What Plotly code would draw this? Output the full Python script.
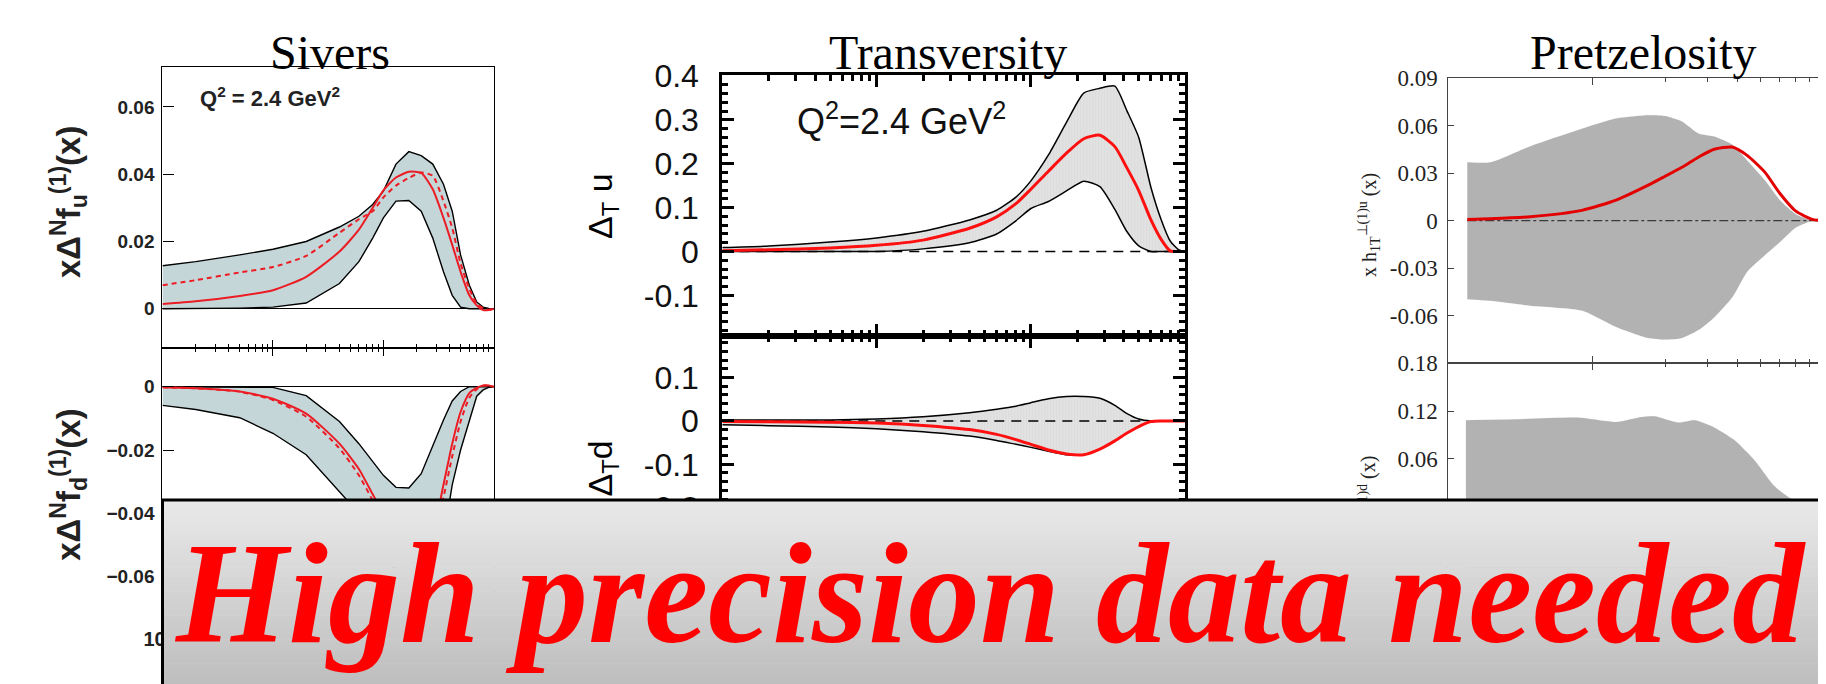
import math
import plotly.graph_objects as go

W, H = 1826, 684

# ------------------------------------------------------------------ data
# Sivers (x grid, log scale)
X_SIV = [0.001, 0.002, 0.005, 0.01, 0.02, 0.04, 0.06, 0.08, 0.1, 0.13, 0.17,
         0.22, 0.28, 0.35, 0.42, 0.5, 0.6, 0.7, 0.8, 0.9, 1.0]
SIV_U_HI = [0.0128, 0.0140, 0.0160, 0.0177, 0.0200, 0.0243, 0.0275, 0.0310, 0.0350, 0.0430, 0.0467,
            0.0455, 0.0430, 0.0370, 0.0290, 0.0160, 0.0070, 0.0020, 0.0005, 0.0001, 0.0]
SIV_U_LO = [0.0, 0.0, 0.0002, 0.0005, 0.0017, 0.0075, 0.0140, 0.0210, 0.0270, 0.0320, 0.0322,
            0.0290, 0.0210, 0.0110, 0.0040, 0.0005, 0.0, 0.0, 0.0, 0.0, 0.0]
SIV_U_FIT = [0.0014, 0.0022, 0.0038, 0.0055, 0.0095, 0.0170, 0.0235, 0.0300, 0.0352, 0.0390, 0.0407,
             0.0404, 0.0355, 0.0270, 0.0190, 0.0110, 0.0040, 0.0010, -0.0004, -0.0004, 0.0]
SIV_U_OLD = [0.0070, 0.0085, 0.0108, 0.0124, 0.0157, 0.0226, 0.0266, 0.0290, 0.0331, 0.0366, 0.0389,
             0.0405, 0.0395, 0.0320, 0.0240, 0.0135, 0.0060, 0.0015, 0.0002, -0.0003, 0.0]
SIV_D_HI = [0.0, 0.0, 0.0, -0.0002, -0.0028, -0.0110, -0.0180, -0.0235, -0.0280, -0.0318, -0.0320,
            -0.0275, -0.0185, -0.0105, -0.0045, -0.0015, 0.0, 0.0, 0.0, 0.0, 0.0]
SIV_D_LO = [-0.0059, -0.0072, -0.0098, -0.0147, -0.0215, -0.0330, -0.0400, -0.0470, -0.0530, -0.0580, -0.0620,
            -0.0620, -0.0580, -0.0480, -0.0310, -0.0200, -0.0108, -0.0030, -0.0010, -0.0002, 0.0]
SIV_D_FIT = [-0.0002, -0.0005, -0.0015, -0.0038, -0.0085, -0.0180, -0.0260, -0.0340, -0.0400, -0.0460, -0.0500,
             -0.0510, -0.0460, -0.0310, -0.0180, -0.0080, -0.0020, -0.0004, 0.0004, 0.0004, 0.0]
SIV_D_OLD = [-0.0002, -0.0005, -0.0016, -0.0042, -0.0095, -0.0195, -0.0280, -0.0360, -0.0430, -0.0490, -0.0530,
             -0.0540, -0.0500, -0.0350, -0.0220, -0.0110, -0.0035, -0.0008, 0.0003, 0.0003, 0.0]

# Transversity
X_TRV = [0.001, 0.002, 0.005, 0.01, 0.02, 0.04, 0.06, 0.08, 0.1, 0.13, 0.17,
         0.22, 0.28, 0.35, 0.42, 0.5, 0.6, 0.7, 0.8, 0.9, 1.0]
TRV_U_HI = [0.009, 0.0126, 0.0215, 0.031, 0.046, 0.072, 0.094, 0.124, 0.161, 0.220, 0.294,
            0.361, 0.372, 0.377, 0.320, 0.260, 0.146, 0.072, 0.024, 0.005, 0.0]
TRV_U_LO = [0.0, 0.0, 0.0, 0.0, 0.006, 0.020, 0.040, 0.070, 0.098, 0.114, 0.138,
            0.160, 0.148, 0.096, 0.045, 0.013, 0.0, 0.0, 0.0, 0.0, 0.0]
TRV_U_FIT = [0.0015, 0.004, 0.008, 0.014, 0.026, 0.053, 0.079, 0.109, 0.142, 0.183, 0.224,
             0.257, 0.265, 0.239, 0.190, 0.139, 0.072, 0.027, 0.0015, 0.0, 0.0]
TRV_D_HI = [0.002, 0.002, 0.002, 0.0045, 0.0097, 0.019, 0.027, 0.034, 0.042, 0.051, 0.056,
            0.056, 0.052, 0.036, 0.017, 0.0045, 0.0, 0.0, 0.0, 0.0, 0.0]
TRV_D_LO = [-0.009, -0.011, -0.014, -0.018, -0.025, -0.035, -0.045, -0.054, -0.061, -0.070, -0.078,
            -0.078, -0.065, -0.046, -0.028, -0.013, -0.0015, 0.0, 0.0, 0.0, 0.0]
TRV_D_FIT = [-0.0015, -0.002, -0.003, -0.005, -0.0105, -0.020, -0.031, -0.043, -0.054, -0.067, -0.076,
             -0.078, -0.065, -0.046, -0.028, -0.013, -0.0015, 0.0, 0.0, 0.0, 0.0]

# Pretzelosity
X_PRZ_U = [0.03, 0.0375, 0.055, 0.09, 0.125, 0.17, 0.2, 0.235, 0.275, 0.32, 0.38,
           0.44, 0.52, 0.6, 0.7, 0.82, 0.9]
PRZ_U_HI = [0.0368, 0.0368, 0.0470, 0.0580, 0.0645, 0.0665, 0.0660, 0.0625, 0.0550, 0.0530, 0.0480,
            0.0378, 0.0255, 0.0130, 0.0040, 0.0, 0.0]
PRZ_U_LO = [-0.0495, -0.0505, -0.0536, -0.0567, -0.0670, -0.0740, -0.0750, -0.0740, -0.0690, -0.0610, -0.0485,
            -0.0320, -0.0218, -0.0136, -0.0043, 0.0, 0.0]
PRZ_U_FIT = [0.0008, 0.0012, 0.0025, 0.0065, 0.0130, 0.0224, 0.0280, 0.0337, 0.0400, 0.0450, 0.0464,
             0.0410, 0.0306, 0.0173, 0.0060, 0.0008, 0.0]
X_PRZ_D = [0.0296, 0.048, 0.088, 0.125, 0.16, 0.18, 0.227, 0.266, 0.32, 0.39, 0.47, 0.57, 0.665, 0.78]
PRZ_D_HI = [0.1086, 0.1098, 0.1118, 0.1065, 0.1127, 0.1135, 0.1057, 0.1086, 0.0996, 0.0833, 0.0588,
            0.0260, 0.0106, 0.0]
PRZ_D_LO = [-0.090, -0.095, -0.100, -0.100, -0.105, -0.105, -0.100, -0.095, -0.085, -0.070, -0.050,
            -0.025, -0.010, 0.0]
PRZ_D_FIT = [-0.001, -0.002, -0.004, -0.006, -0.009, -0.011, -0.014, -0.016, -0.018, -0.017, -0.013,
             -0.007, -0.003, 0.0]

# tick labels
SIV_U_TICKS = [0, 0.02, 0.04, 0.06]
SIV_U_LABELS = ["0", "0.02", "0.04", "0.06"]
SIV_D_TICKS = [0, -0.02, -0.04, -0.06]
SIV_D_LABELS = ["0", "\u22120.02", "\u22120.04", "\u22120.06"]
DECADES = [0.001, 0.01, 0.1, 1.0]
SIV_X_LABELS = ["10<sup>\u22123</sup>", "", "", ""]   # only the first one peeks out
TRV_U_TICKS = [-0.1, 0, 0.1, 0.2, 0.3, 0.4]
TRV_U_LABELS = ["-0.1", "0", "0.1", "0.2", "0.3", "0.4"]
TRV_D_TICKS = [-0.2, -0.1, 0, 0.1]
TRV_D_LABELS = ["-0.2", "-0.1", "0", "0.1"]
PRZ_U_TICKS = [-0.06, -0.03, 0, 0.03, 0.06, 0.09]
PRZ_U_LABELS = ["-0.06", "-0.03", "0", "0.03", "0.06", "0.09"]
PRZ_D_TICKS = [0, 0.06, 0.12, 0.18]
PRZ_D_LABELS = ["0", "0.06", "0.12", "0.18"]

# ------------------------------------------------------------------ helpers
MINOR_LOG = [m * d for d in [0.001, 0.01, 0.1] for m in range(2, 10)]
PRZ_MINOR = [m * 0.1 for m in range(2, 10)]

SANS = "Liberation Sans, Arial, sans-serif"
SERIF = "Liberation Serif, Times New Roman, serif"

SIV_FILL = "#c5d6d9"
SIV_RED = "#ec1c24"
TRV_RED = "#ff1010"
PRZ_RED = "#e30000"

fig = go.Figure()


def line(xs, ys, xa, ya, color, width, dash="solid", shape="spline", fill=None,
         fillcolor=None, fillpattern=None):
    kw = dict(x=xs, y=ys, xaxis=xa, yaxis=ya, mode="lines",
              line=dict(color=color, width=width, dash=dash, shape=shape, smoothing=0.6),
              hoverinfo="skip", showlegend=False)
    if fill:
        kw["fill"] = fill
        kw["fillcolor"] = fillcolor
        if fillpattern:
            kw["fillpattern"] = fillpattern
    fig.add_trace(go.Scatter(**kw))


# Sivers u
line(X_SIV, SIV_U_LO, "x", "y", "black", 1.4, shape="linear")
line(X_SIV, SIV_U_HI, "x", "y", "black", 1.4, shape="linear", fill="tonexty", fillcolor=SIV_FILL)
line(X_SIV, SIV_U_OLD, "x", "y", SIV_RED, 2, dash="5px,4px")
line(X_SIV, SIV_U_FIT, "x", "y", SIV_RED, 2)
# Sivers d
line(X_SIV, SIV_D_LO, "x2", "y2", "black", 1.4, shape="linear")
line(X_SIV, SIV_D_HI, "x2", "y2", "black", 1.4, shape="linear", fill="tonexty", fillcolor=SIV_FILL)
line(X_SIV, SIV_D_OLD, "x2", "y2", SIV_RED, 2, dash="5px,4px")
line(X_SIV, SIV_D_FIT, "x2", "y2", SIV_RED, 2)

# Transversity
TRV_PATTERN = dict(shape="|", bgcolor="#e2e2e2", fgcolor="#cfcfcf", size=3, solidity=0.25)
line(X_TRV, TRV_U_LO, "x3", "y3", "black", 1.5)
line(X_TRV, TRV_U_HI, "x3", "y3", "black", 1.5, fill="tonexty", fillcolor="#dedede",
     fillpattern=TRV_PATTERN)
line([X_TRV[0], X_TRV[-1]], [0, 0], "x3", "y3", "black", 1.5, dash="10px,7px", shape="linear")
line(X_TRV, TRV_U_FIT, "x3", "y3", TRV_RED, 3)

line(X_TRV, TRV_D_LO, "x4", "y4", "black", 1.5)
line(X_TRV, TRV_D_HI, "x4", "y4", "black", 1.5, fill="tonexty", fillcolor="#dedede",
     fillpattern=TRV_PATTERN)
line([X_TRV[0], X_TRV[-1]], [0, 0], "x4", "y4", "black", 1.5, dash="10px,7px", shape="linear")
line(X_TRV, TRV_D_FIT, "x4", "y7", TRV_RED, 3)

# Pretzelosity
line(X_PRZ_U, PRZ_U_LO, "x5", "y5", "#b2b2b2", 0.1)
line(X_PRZ_U, PRZ_U_HI, "x5", "y5", "#b2b2b2", 0.1, fill="tonexty", fillcolor="#b2b2b2")
line([X_PRZ_U[0], X_PRZ_U[-1]], [0, 0], "x5", "y5", "#3a3a3a", 1.2, dash="dashdot", shape="linear")
line(X_PRZ_U, PRZ_U_FIT, "x5", "y5", PRZ_RED, 3)

line(X_PRZ_D, PRZ_D_LO, "x6", "y6", "#b2b2b2", 0.1)
line(X_PRZ_D, PRZ_D_HI, "x6", "y6", "#b2b2b2", 0.1, fill="tonexty", fillcolor="#b2b2b2")
line(X_PRZ_D, PRZ_D_FIT, "x6", "y8", PRZ_RED, 3)


# ------------------------------------------------------------------ axes
def dom_x(a, b):
    return [a / W, min(b / W, 1.0)]


def dom_y(top, bottom):
    return [1 - bottom / H, 1 - top / H]


def logx(domain, anchor, rng, lw, tw, major_len, minor_len, mirror, color="black",
         tickvals=DECADES, minor_vals=MINOR_LOG, labels=None, font=None):
    d = dict(domain=domain, anchor=anchor, type="log", range=rng, showgrid=False,
             zeroline=False, showline=True, linecolor=color, linewidth=lw, mirror=mirror,
             ticks="inside", tickvals=tickvals, ticklen=major_len, tickwidth=tw,
             tickcolor=color,
             minor=dict(tickvals=minor_vals, ticklen=minor_len, tickwidth=tw,
                        tickcolor=color, ticks="inside", showgrid=False))
    if labels:
        d.update(showticklabels=True, ticktext=labels, tickfont=font, ticklabelstandoff=8)
    else:
        d.update(showticklabels=False)
    return d


def liny(domain, anchor, rng, vals, labels, lw, tw, tlen, mirror, font, standoff,
         color="black", minor=None, zeroline=False):
    d = dict(domain=domain, anchor=anchor, range=rng, showgrid=False,
             zeroline=zeroline, zerolinecolor="black", zerolinewidth=1.4,
             showline=True, linecolor=color, linewidth=lw, mirror=mirror,
             ticks="inside", tickvals=vals, ticktext=labels, ticklen=tlen,
             tickwidth=tw, tickcolor=color, tickfont=font, ticklabelstandoff=standoff)
    if minor:
        d["minor"] = minor
    return d


siv_font = dict(family=SANS, size=19, color="#222", weight="bold")
trv_font = dict(family=SANS, size=32, color="#111")
prz_font = dict(family=SERIF, size=23, color="#222")

layout_axes = dict(
    xaxis=logx(dom_x(137, 472), "y", [-3, 0], 1.4, 1.2, 8, 4, True),
    yaxis=liny(dom_y(43, 331.5), "x", [-0.01174, 0.07188], SIV_U_TICKS, SIV_U_LABELS,
               1.4, 1.2, 11, True, siv_font, 3, zeroline=True),
    xaxis2=logx(dom_x(137, 472), "y2", [-3, 0], 1.4, 1.2, 8, 4, "ticks",
                labels=SIV_X_LABELS, font=dict(family=SANS, size=20, color="#222", weight="bold")),
    yaxis2=liny(dom_y(331.5, 603), "x2", [-0.0715, 0.01215], SIV_D_TICKS, SIV_D_LABELS,
                1.4, 1.2, 11, True, siv_font, 3, zeroline=True),
    xaxis3=logx(dom_x(703, 1171), "y3", [-3, 0], 3, 2.5, 12, 6, "ticks"),
    yaxis3=liny(dom_y(51.7, 319), "x3", [-0.1927, 0.4013], TRV_U_TICKS, TRV_U_LABELS,
                3, 2.5, 12, "ticks", trv_font, 14,
                minor=dict(dtick=0.02, tick0=0, ticklen=6, tickwidth=2.5,
                           tickcolor="black", ticks="inside")),
    xaxis4=logx(dom_x(703, 1171), "y4", [-3, 0], 3, 2.5, 12, 6, "ticks"),
    yaxis4=liny(dom_y(319, 539.5), "x4", [-0.3, 0.1955], TRV_D_TICKS, TRV_D_LABELS,
                3, 2.5, 12, "ticks", trv_font, 14,
                minor=dict(dtick=0.02, tick0=0, ticklen=6, tickwidth=2.5,
                           tickcolor="black", ticks="inside")),
    xaxis5=logx(dom_x(1437, 1826), "y5", [math.log10(0.025), 0], 1, 1, 7, 4, "ticks",
                color="#444", tickvals=[0.1, 1.0], minor_vals=PRZ_MINOR),
    yaxis5=liny(dom_y(54.3, 347), "x5", [-0.09, 0.09], PRZ_U_TICKS, PRZ_U_LABELS,
                1, 1, 6, "ticks", prz_font, 5, color="#444"),
    xaxis6=logx(dom_x(1437, 1826), "y6", [math.log10(0.025), 0], 1, 1, 7, 4, "ticks",
                color="#444", tickvals=[0.1, 1.0], minor_vals=PRZ_MINOR),
    yaxis6=liny(dom_y(347, 641), "x6", [-0.18, 0.18], PRZ_D_TICKS, PRZ_D_LABELS,
                1, 1, 6, "ticks", prz_font, 5, color="#444"),
    # axes that only carry the (partly hidden) lower-panel titles
    yaxis7=dict(overlaying="y4", anchor="free", position=598 / W, side="left",
                range=[-0.3, 0.1955], tickvals=[-0.121], ticktext=["\u0394<sub>T</sub>d"],
                tickangle=-90, ticks="", showline=False, showgrid=False, zeroline=False,
                tickfont=dict(family=SANS, size=34, color="black")),
    yaxis8=dict(overlaying="y6", anchor="free", position=1367 / W, side="left",
                range=[-0.18, 0.18], tickvals=[-0.005],
                ticktext=["x h<sub>1T</sub><sup>\u22a5(1)d</sup> (x)"],
                tickangle=-90, ticks="", showline=False, showgrid=False, zeroline=False,
                tickfont=dict(family=SERIF, size=20, color="#222")),
)


# ------------------------------------------------------------------ annotations
def ann(text, xpx, ypx, size, family, color="black", angle=0, weight="normal",
        style="normal"):
    return dict(text=text, x=xpx / W, y=1 - ypx / H, xref="paper", yref="paper",
                showarrow=False, xanchor="center", yanchor="middle", textangle=angle,
                font=dict(family=family, size=size, color=color, weight=weight, style=style))


annotations = [
    ann("Sivers", 306, 28, 48, SERIF),
    ann("Transversity", 931, 28, 48, SERIF),
    ann("Pretzelosity", 1634, 28, 48, SERIF),
    ann("Q<sup>2</sup> = 2.4 GeV<sup>2</sup>", 246, 74, 22, SANS, color="#222", weight="bold"),
    ann("Q<sup>2</sup>=2.4 GeV<sup>2</sup>", 884, 96, 36, SANS, color="#111"),
    ann("x\u0394<sup>N</sup>f<sub>u</sub><sup>(1)</sup>(x)", 42, 182, 33, SANS, color="#222",
        angle=-90, weight="bold"),
    ann("x\u0394<sup>N</sup>f<sub>d</sub><sup>(1)</sup>(x)", 42, 472, 33, SANS, color="#222",
        angle=-90, weight="bold"),
    ann("\u0394<sub>T</sub> u", 582, 186, 34, SANS, angle=-90),
    ann("x h<sub>1T</sub><sup>\u22a5(1)u</sup> (x)", 1357, 205, 20, SERIF, color="#222", angle=-90),
    ann("High precision data needed", 974, 583, 144, SERIF, color="#ff0000",
        weight="bold", style="italic"),
]

# ------------------------------------------------------------------ banner (gradient box)
shapes = []
B_TOP, B_BOT, B_LEFT = 487, 684, 137
N = 40
for i in range(N):
    y0 = B_TOP + (B_BOT - B_TOP) * i / N
    y1 = B_TOP + (B_BOT - B_TOP) * (i + 1) / N + 0.6
    g = round(233 - (233 - 188) * (i + 0.5) / N)
    shapes.append(dict(type="rect", xref="paper", yref="paper", layer="above",
                       x0=B_LEFT / W, x1=1.01, y0=1 - y1 / H, y1=1 - y0 / H,
                       line=dict(width=0), fillcolor=f"rgb({g},{g},{g})"))
shapes.append(dict(type="rect", xref="paper", yref="paper", layer="above",
                   x0=B_LEFT / W, x1=1.01, y0=1 - 682.5 / H, y1=1 - B_TOP / H,
                   line=dict(color="black", width=3), fillcolor="rgba(0,0,0,0)"))

fig.update_layout(
    width=W, height=H,
    margin=dict(l=0, r=0, t=0, b=0),
    paper_bgcolor="white", plot_bgcolor="rgba(0,0,0,0)",
    showlegend=False,
    annotations=annotations,
    shapes=shapes,
    **layout_axes,
)

fig.write_html("out.html")
